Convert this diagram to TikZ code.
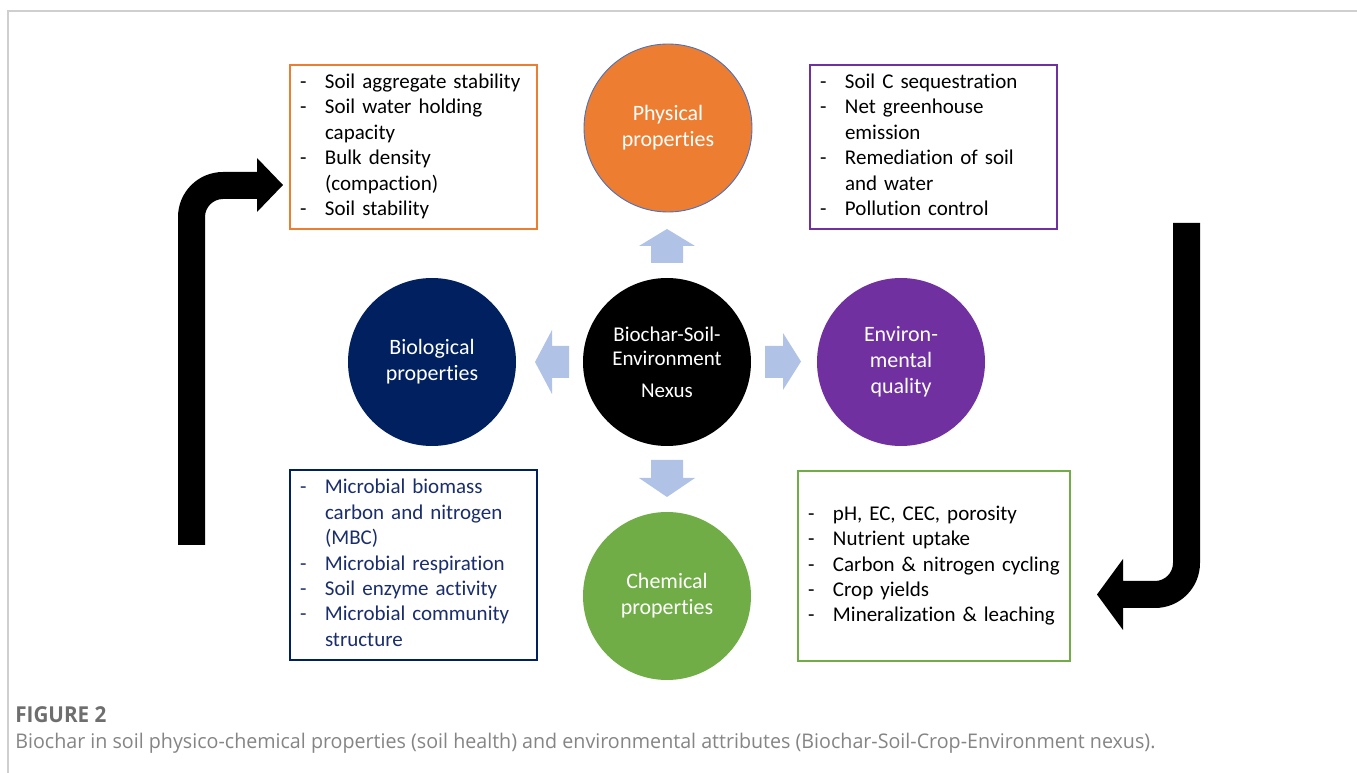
\documentclass[tikz,border=0pt]{standalone}
\usepackage{fontspec}
\setmainfont[Ligatures={NoCommon}]{Carlito}
\newfontfamily\capfont{Open Sans}
\usepackage{array}
\usepackage{graphicx}
\newlength{\pxl}\setlength{\pxl}{0.02cm}
\def\u{0.02cm}
\definecolor{orng}{HTML}{ED7D31}
\definecolor{purp}{HTML}{7030A0}
\definecolor{navyc}{HTML}{002060}
\definecolor{navyt}{HTML}{1B2E6C}
\definecolor{grn}{HTML}{70AD47}
\definecolor{ltblue}{HTML}{B0C2E5}
\definecolor{outl}{HTML}{4472C4}
\definecolor{framegray}{HTML}{CFCFCF}
\definecolor{capgrayA}{HTML}{6E6E6E}
\definecolor{capgrayB}{HTML}{858585}
\tikzset{
  listbox/.style={draw, line width=1.2pt, fill=white, text width=227*\u, align=left,
    inner xsep=10*\u, inner ysep=0pt, anchor=center,
    font=\fontsize{11.95}{14.45}\selectfont},
  circ/.style={circle, minimum size=168*\u, inner sep=0pt, text=white, align=center,
    font=\fontsize{12.5}{14.8}\selectfont},
  blockarrow/.style={fill=ltblue, draw=none},
  bentarrow/.style={fill=black, draw=none}
}
\newcommand{\dashlist}[1]{\begin{tabular}{@{}p{25\pxl}@{}l@{}}#1\end{tabular}}
\begin{document}
\begin{tikzpicture}[x=0.02cm, y=-0.02cm]
\useasboundingbox (0,0) rectangle (1357,773);
\fill[white] (0,0) rectangle (1357,773);
% frame
\draw[framegray, line width=1.1pt] (8,773) -- (8,11) -- (1357,11);

% circles
\node[circ, fill=orng, draw=outl, line width=0.5pt] (phys) at (668,128) {Physical\\properties};
\node[circ, fill=navyc] (bio) at (432,362) {Biological\\properties};
\node[circ, fill=black, font=\fontsize{11.95}{13.66}\selectfont] (nexus) at (667,362) {Biochar-Soil-\\Environment\\[8\pxl]Nexus};
\node[circ, fill=purp] (env) at (901,362) {Environ-\\mental\\quality};
\node[circ, fill=grn] (chem) at (667,596) {Chemical\\properties};

% boxes
\node[listbox, draw=orng, minimum height=164*\u] (physbox) at (413.5,147)
  {\dashlist{-& Soil aggregate stability\\ -& Soil water holding\\ & capacity\\ -& Bulk density\\ & (compaction)\\ -& Soil stability}};
\node[listbox, draw=purp, minimum height=164*\u] (envbox) at (933.5,147)
  {\dashlist{-& Soil C sequestration\\ -& Net greenhouse\\ & emission\\ -& Remediation of soil\\ & and water\\ -& Pollution control}};
\node[listbox, draw=navyc, text=navyt, minimum height=190*\u] (biobox) at (413.5,565)
  {\dashlist{-& Microbial biomass\\ & carbon and nitrogen\\ & (MBC)\\ -& Microbial respiration\\ -& Soil enzyme activity\\ -& Microbial community\\ & structure}};
\node[listbox, draw=grn, text width=252*\u, minimum height=190*\u] (chembox) at (934,566)
  {\dashlist{-& pH, EC, CEC, porosity\\ -& Nutrient uptake\\ -& Carbon \& nitrogen cycling\\ -& Crop yields\\ -& Mineralization \& leaching}};

% light blue block arrows
\fill[blockarrow] (651,263) -- (651,246) -- (639,246) -- (667,229) -- (695,246) -- (683,246) -- (683,263) -- cycle;
\fill[blockarrow] (651,460) -- (651,478) -- (639,478) -- (667,497) -- (695,478) -- (683,478) -- (683,460) -- cycle;
\fill[blockarrow] (569,346) -- (552,346) -- (552,330) -- (535,362) -- (552,394) -- (552,378) -- (569,378) -- cycle;
\fill[blockarrow] (765,346) -- (783,346) -- (783,333) -- (801,361.5) -- (783,390) -- (783,378) -- (765,378) -- cycle;

% black bent arrows
\coordinate (ltip) at (283,185);
\fill[bentarrow] (178,545) -- (178,217) .. controls (178,192.1) and (198.1,172) .. (223,172)
  -- (257,172) -- (257,158) -- (ltip) -- (257,212) -- (257,199) -- (223,199)
  .. controls (213.1,199) and (205,207.1) .. (205,217) -- (205,545) -- cycle;
\coordinate (rtip) at (1097,594.5);
\fill[bentarrow] (1173,223) -- (1200,223) -- (1200,563) .. controls (1200,587.9) and (1179.9,608) .. (1155,608)
  -- (1123,608) -- (1123,630) -- (rtip) -- (1123,559) -- (1123,581) -- (1155,581)
  .. controls (1164.9,581) and (1173,572.9) .. (1173,563) -- cycle;

% caption
\node[anchor=base west, inner sep=0pt, text=capgrayA] (figlabel) at (15,723)
  {\resizebox{91\pxl}{\height}{\capfont\fontsize{12.5}{14}\selectfont\bfseries FIGURE 2}};
\node[anchor=base west, inner sep=0pt, text=capgrayB] (caption) at (15,748)
  {\resizebox{1140\pxl}{\height}{\capfont\fontsize{11.5}{14}\selectfont Biochar in soil physico-chemical properties (soil health) and environmental attributes (Biochar-Soil-Crop-Environment nexus).}};
\end{tikzpicture}
\end{document}
